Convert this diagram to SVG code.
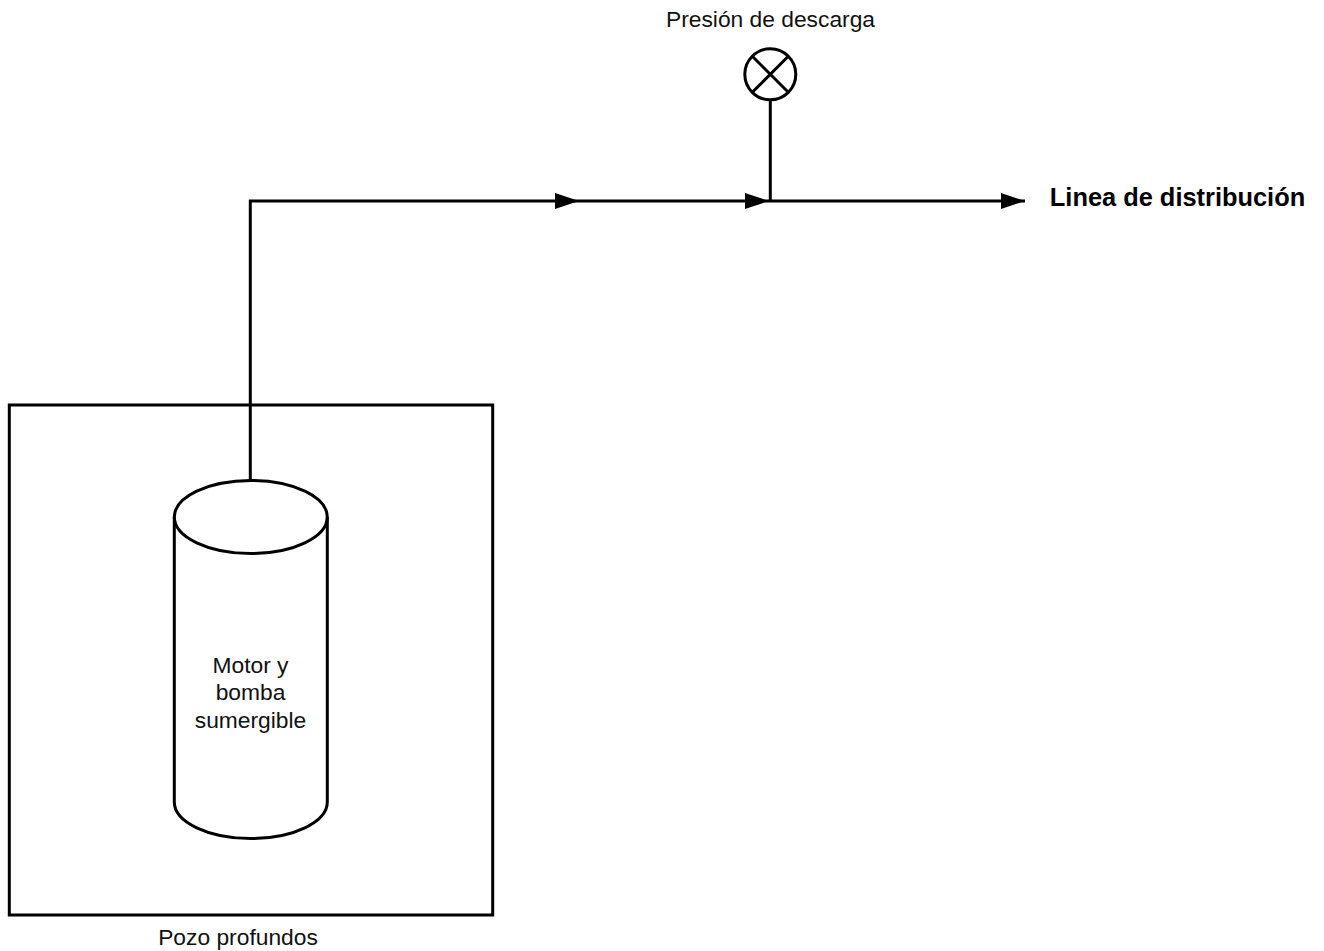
<svg xmlns="http://www.w3.org/2000/svg" width="1324" height="951" viewBox="0 0 1324 951">
<style>
.s{fill:none;stroke:#000;stroke-width:3}
.t{font-family:"Liberation Sans",Arial,sans-serif;font-size:22.8px;fill:#111;text-anchor:middle}
.b{font-weight:bold;font-size:25.4px;fill:#000}
.c{fill:none;stroke:#000;stroke-width:3}
</style>
<defs><marker id="a" markerUnits="userSpaceOnUse" markerWidth="25" markerHeight="18" refX="24" refY="9" orient="auto"><path d="M0 1L24 9L0 17Z" fill="#000"/></marker></defs>
<rect width="1324" height="951" fill="#fff"/>
<g id="connectors">
<path class="c" d="M250.300 481V201H579" marker-end="url(#a)"/>
<path class="c" d="M579 201H769" marker-end="url(#a)"/>
<path class="c" d="M769 201H1025" marker-end="url(#a)"/>
<path class="c" d="M770.300 100V201"/>
</g>
<g id="pozo"><rect class="s" x="9.300" y="405" width="483.400" height="510"/><text class="t" x="238" y="945">Pozo profundos</text></g>
<g id="bomba"><path class="s" d="M174.300 517A76.500 36.500 0 0 1 327.300 517V802A76.500 36.500 0 0 1 174.300 802Z"/><path class="s" d="M174.300 517A76.500 36.500 0 0 0 327.300 517"/>
<text class="t" x="250.500" y="673">Motor y</text><text class="t" x="250.500" y="700">bomba</text><text class="t" x="250.500" y="728">sumergible</text></g>
<g id="manometro"><circle class="s" cx="770.300" cy="74.300" r="25.500"/><path class="s" d="M752.300 56.300L788.300 92.300M788.300 56.300L752.300 92.300"/><text class="t" x="770.500" y="27">Presión de descarga</text></g>
<g id="linea"><text class="t b" x="1177.500" y="206">Linea de distribución</text></g>
</svg>
